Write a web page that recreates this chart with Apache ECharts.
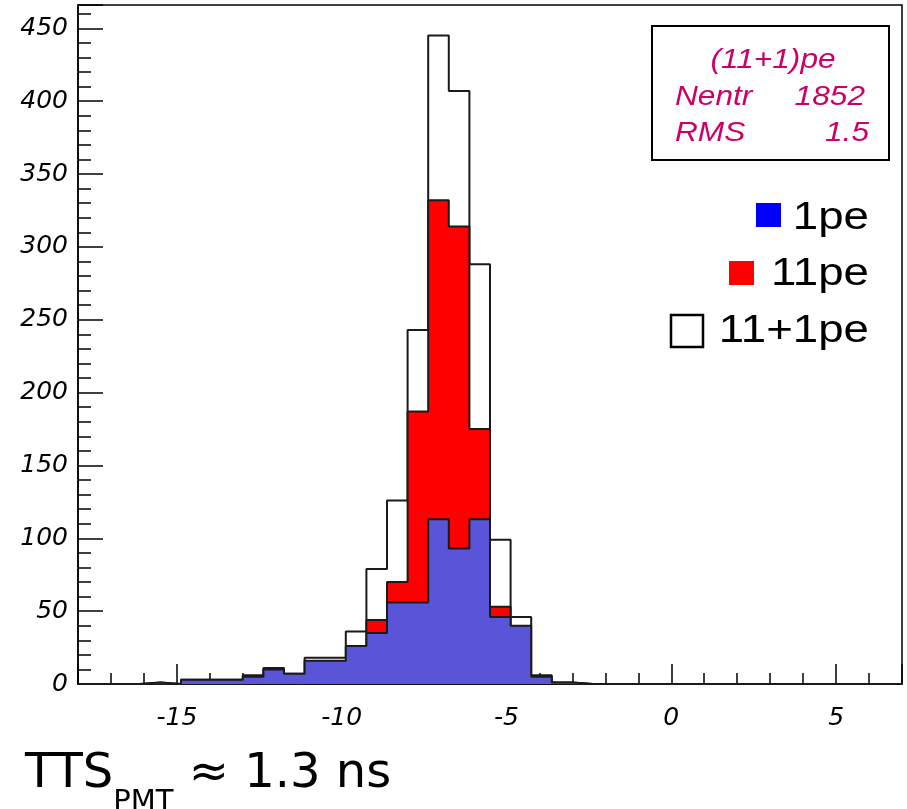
<!DOCTYPE html>
<html><head><meta charset="utf-8">
<script src="https://cdn.jsdelivr.net/npm/echarts@6/dist/echarts.min.js"></script>
<style>html,body{margin:0;padding:0;background:#fff}#c{width:907px;height:809px}</style>
</head><body><div id="c"></div>
<script>
// Histogram binning: 40 bins from -18 to 7 ns
const binStart = -18;
const binWidth = 0.625;
// (11+1)pe summed histogram
const countsSum = [0,0,0,1,0,3,3,3,6,11,7,18,18,36,79,126,243,445,407,288,99,46,6,1,0,0,0,0,0,0,0,0,0,0,0,0,0,0,0,0];
// 11pe histogram
const counts11pe = [0,0,0,0,0,0,0,0,1,1,0,2,2,10,44,70,187,332,314,175,53,6,1,0,0,0,0,0,0,0,0,0,0,0,0,0,0,0,0,0];
// 1pe histogram
const counts1pe = [0,0,0,1,0,3,3,3,5,10,7,16,16,26,35,56,56,113,93,113,46,40,5,1,0,0,0,0,0,0,0,0,0,0,0,0,0,0,0,0];
const statsTitle = '(11+1)pe';
const statsRows = [['Nentr','1852'],['RMS','1.5']];
const legendNames = ['1pe','11pe','11+1pe'];

function stepData(vals){
  const d = [];
  vals.forEach((v,k)=>d.push([binStart + k*binWidth, v]));
  d.push([binStart + vals.length*binWidth, vals[vals.length-1]]);
  return d;
}
const lineCol = '#1a1a1a';
function histSeries(name, vals, fill, z){
  return {
    name, type:'line', step:'end', data: stepData(vals), symbol:'none', z,
    lineStyle:{color:lineCol, width:2}, areaStyle:{color:fill, opacity:1},
    animation:false, silent:true
  };
}
const axisFont = {fontFamily:'DejaVu Sans', fontStyle:'italic', fontSize:25, color:'#000'};
const chart = echarts.init(document.getElementById('c'), null, {renderer:'canvas'});
const magenta = '#cc0066';
const gtext = (x,y,text,font,opts) => Object.assign({type:'text', x, y, style:Object.assign({text, fill:'#000'}, font)}, opts||{});
chart.setOption({
  backgroundColor:'#fff',
  animation:false,
  grid:{left:78, top:5, width:824, height:679, show:true, borderColor:'#000', borderWidth:1.5, backgroundColor:'transparent'},
  xAxis:{type:'value', min:-18, max:7, splitNumber:5,
    axisLine:{onZero:false, lineStyle:{color:'#000', width:1.5}},
    axisTick:{inside:true, length:20, lineStyle:{color:'#000', width:1.5}},
    minorTick:{show:true, splitNumber:5, length:11, lineStyle:{color:'#000', width:1.5}},
    splitLine:{show:false},
    axisLabel:Object.assign({showMinLabel:false, showMaxLabel:false, margin:22}, axisFont)},
  yAxis:{type:'value', min:0, max:466, interval:50,
    axisLine:{onZero:false, lineStyle:{color:'#000', width:1.5}},
    axisTick:{inside:true, length:25, lineStyle:{color:'#000', width:1.5}},
    minorTick:{show:true, splitNumber:5, length:13, lineStyle:{color:'#000', width:1.5}},
    splitLine:{show:false},
    axisLabel:Object.assign({showMaxLabel:false, margin:10}, axisFont)},
  series:[
    histSeries(legendNames[2], countsSum, '#ffffff', 2),
    histSeries(legendNames[1], counts11pe, '#ff0000', 3),
    histSeries(legendNames[0], counts1pe, '#5954d8', 4)
  ],
  graphic:[
    {type:'rect', shape:{x:652, y:26, width:237, height:134}, style:{fill:'#fff', stroke:'#000', lineWidth:2}, z:10},
    gtext(773, 60, statsTitle, {font:'italic 28px "Liberation Sans"', fill:magenta, align:'center', verticalAlign:'middle'}, {scaleX:1.13, z:11}),
    gtext(675, 97, statsRows[0][0], {font:'italic 28px "Liberation Sans"', fill:magenta, align:'left', verticalAlign:'middle'}, {scaleX:1.13, z:11}),
    gtext(865, 97, statsRows[0][1], {font:'italic 28px "Liberation Sans"', fill:magenta, align:'right', verticalAlign:'middle'}, {scaleX:1.13, z:11}),
    gtext(675, 133, statsRows[1][0], {font:'italic 28px "Liberation Sans"', fill:magenta, align:'left', verticalAlign:'middle'}, {scaleX:1.13, z:11}),
    gtext(869, 133, statsRows[1][1], {font:'italic 28px "Liberation Sans"', fill:magenta, align:'right', verticalAlign:'middle'}, {scaleX:1.13, z:11}),
    {type:'rect', shape:{x:756, y:203, width:25, height:24}, style:{fill:'#0000ff'}, z:10},
    {type:'rect', shape:{x:729, y:261, width:25, height:24}, style:{fill:'#ff0000'}, z:10},
    {type:'rect', shape:{x:671, y:315, width:32, height:32}, style:{fill:'#fff', stroke:'#000', lineWidth:2.5}, z:10},
    gtext(869, 218, legendNames[0], {font:'39px "Liberation Sans"', align:'right', verticalAlign:'middle'}, {scaleX:1.17, z:11}),
    gtext(869, 274, legendNames[1], {font:'39px "Liberation Sans"', align:'right', verticalAlign:'middle'}, {scaleX:1.17, z:11}),
    gtext(869, 331, legendNames[2], {font:'39px "Liberation Sans"', align:'right', verticalAlign:'middle'}, {scaleX:1.17, z:11}),
    {type:'text', x:25, y:775, z:11, style:{
      text:'{a|TTS}{b|PMT}{a| ≈ 1.3 ns}', verticalAlign:'middle',
      rich:{
        a:{fontFamily:'DejaVu Sans', fontSize:48, fill:'#000', verticalAlign:'bottom'},
        b:{fontFamily:'DejaVu Sans', fontSize:29, fill:'#000', verticalAlign:'bottom', padding:[0,0,-18,0]}
      }}}
  ]
});
</script></body></html>
